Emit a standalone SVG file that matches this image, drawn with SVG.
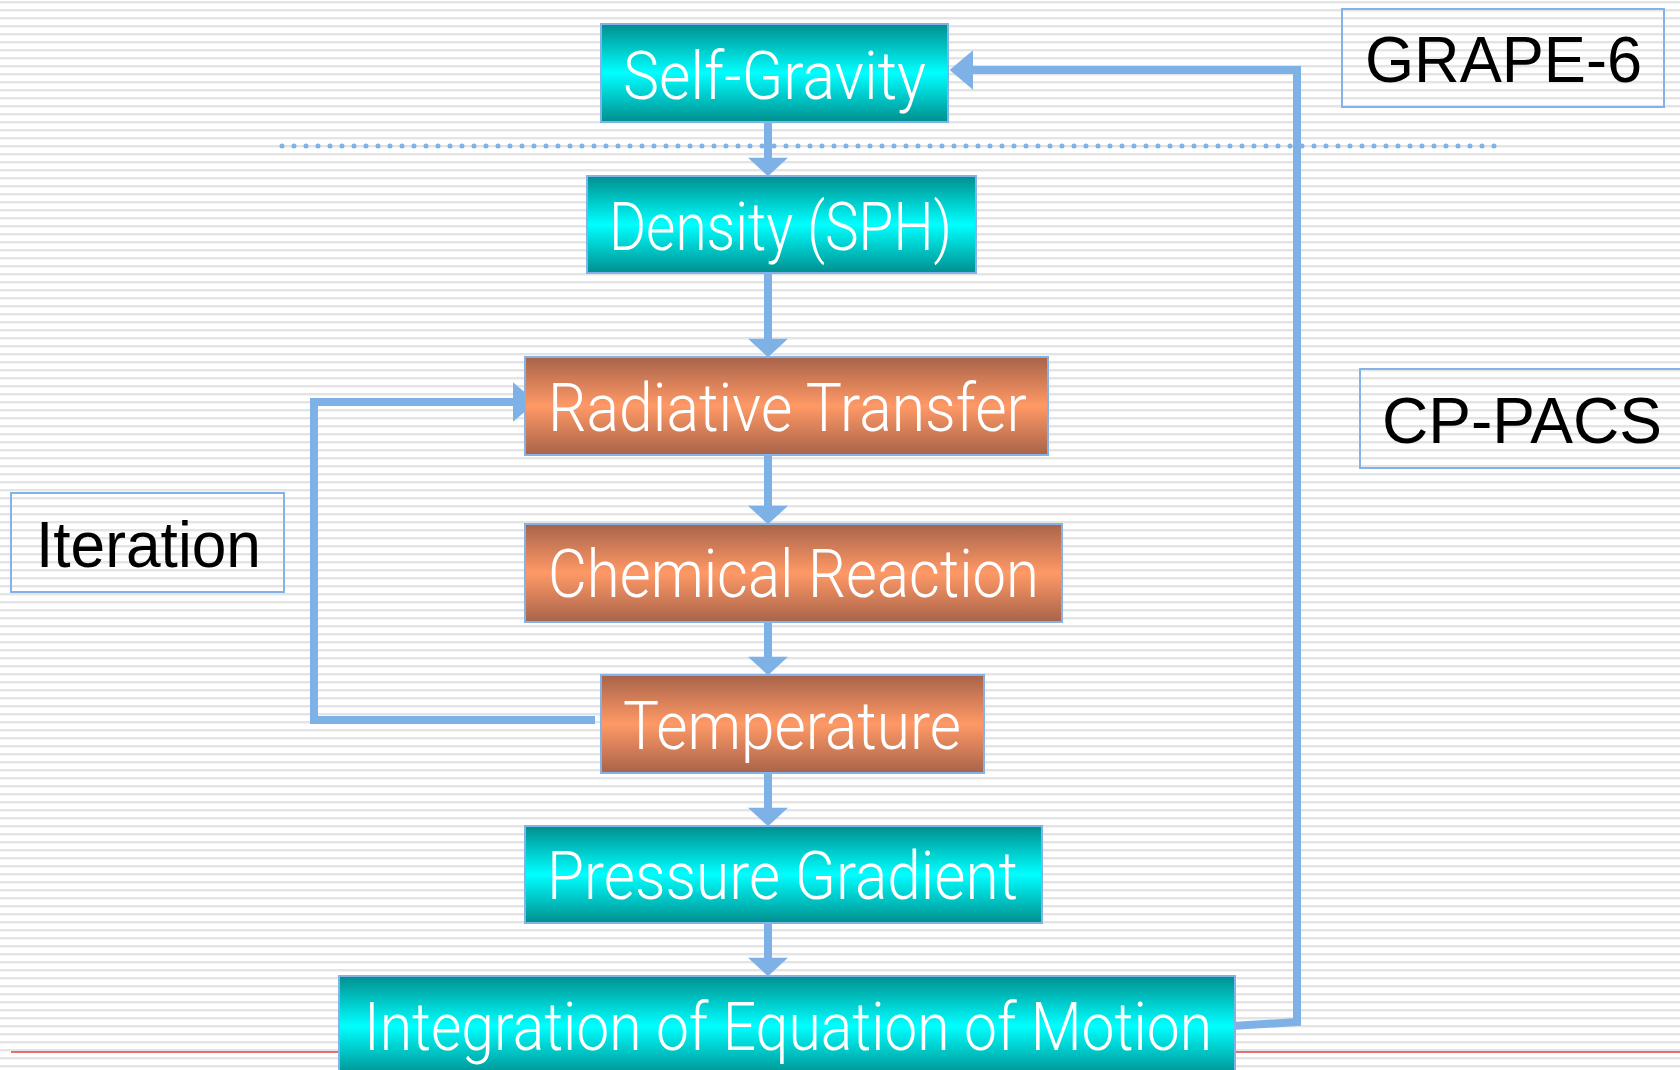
<svg xmlns="http://www.w3.org/2000/svg" width="1680" height="1070" viewBox="0 0 1680 1070">
<defs>
<pattern id="stripes" width="8" height="8" patternUnits="userSpaceOnUse">
<rect width="8" height="8" fill="#ffffff"/>
<rect y="1" width="8" height="2" fill="#e4e4e4"/>
<rect y="3" width="8" height="0.8" fill="#f0f0f0"/>
</pattern>
<linearGradient id="teal" x1="0" y1="0" x2="0" y2="1">
<stop offset="0" stop-color="#008e8e"/>
<stop offset="0.5" stop-color="#00ffff"/>
<stop offset="1" stop-color="#008e8e"/>
</linearGradient>
<linearGradient id="orange" x1="0" y1="0" x2="0" y2="1">
<stop offset="0" stop-color="#a8634a"/>
<stop offset="0.5" stop-color="#ff9966"/>
<stop offset="1" stop-color="#a8634a"/>
</linearGradient>
<marker id="arrV" markerUnits="userSpaceOnUse" markerWidth="20" markerHeight="40" viewBox="0 0 18 39" refX="6" refY="19.5" orient="auto">
<path d="M0,0 L18,19.5 L0,39 z" fill="#7eb2e6"/>
</marker>
<marker id="arrH" markerUnits="userSpaceOnUse" markerWidth="24" markerHeight="40" viewBox="0 0 23 39" refX="8" refY="19.5" orient="auto">
<path d="M0,0 L23,19.5 L0,39 z" fill="#7eb2e6"/>
</marker>
<style>
.box{stroke:#82b2e6;stroke-width:2}
.t{fill:none;stroke:#82b2e6;stroke-width:2}
.lbl{font-family:Roboto,"Liberation Sans",sans-serif;font-weight:300;font-size:66px;fill:#ffffff}
.blk{font-family:"Liberation Sans",Arial,sans-serif;font-size:64px;fill:#000000}
.c{fill:none;stroke:#7eb2e6;stroke-width:8}
</style>
</defs>
<rect width="1680" height="1070" fill="url(#stripes)"/>
<line x1="11" y1="1052" x2="1680" y2="1052" stroke="#e04040" stroke-width="1.5"/>
<line x1="282" y1="146" x2="1497" y2="146" stroke="#7eb2e6" stroke-width="5" stroke-dasharray="0 12" stroke-linecap="round"/>

<g id="connectors">
<line class="c" x1="768" y1="122" x2="768" y2="164" marker-end="url(#arrV)"/>
<line class="c" x1="768" y1="273" x2="768" y2="345" marker-end="url(#arrV)"/>
<line class="c" x1="768" y1="455" x2="768" y2="512" marker-end="url(#arrV)"/>
<line class="c" x1="768" y1="622" x2="768" y2="663" marker-end="url(#arrV)"/>
<line class="c" x1="768" y1="773" x2="768" y2="814" marker-end="url(#arrV)"/>
<line class="c" x1="768" y1="923" x2="768" y2="964" marker-end="url(#arrV)"/>
<path class="c" d="M595,720 H314 V402 H521" marker-end="url(#arrH)"/>
<path class="c" d="M1232,1026 L1297,1022 V70 H965" marker-end="url(#arrH)"/>
</g>

<g id="self-gravity">
<rect class="box" x="601" y="24" width="347" height="98" fill="url(#teal)"/>
<text class="lbl" x="623" y="99" textLength="303" lengthAdjust="spacingAndGlyphs">Self-Gravity</text>
</g>
<g id="density">
<rect class="box" x="587" y="176" width="389" height="97" fill="url(#teal)"/>
<text class="lbl" x="609" y="250" textLength="343" lengthAdjust="spacingAndGlyphs">Density (SPH)</text>
</g>
<g id="radiative-transfer">
<rect class="box" x="525" y="357" width="523" height="98" fill="url(#orange)"/>
<text class="lbl" x="548" y="431" textLength="479" lengthAdjust="spacingAndGlyphs">Radiative Transfer</text>
</g>
<g id="chemical-reaction">
<rect class="box" x="525" y="524" width="537" height="98" fill="url(#orange)"/>
<text class="lbl" x="548" y="597" textLength="491" lengthAdjust="spacingAndGlyphs">Chemical Reaction</text>
</g>
<g id="temperature">
<rect class="box" x="601" y="675" width="383" height="98" fill="url(#orange)"/>
<text class="lbl" x="623" y="749" textLength="338" lengthAdjust="spacingAndGlyphs">Temperature</text>
</g>
<g id="pressure-gradient">
<rect class="box" x="525" y="826" width="517" height="97" fill="url(#teal)"/>
<text class="lbl" x="547" y="899" textLength="471" lengthAdjust="spacingAndGlyphs">Pressure Gradient</text>
</g>
<g id="integration">
<rect class="box" x="339" y="976" width="896" height="100" fill="url(#teal)"/>
<text class="lbl" x="364" y="1050" textLength="848" lengthAdjust="spacingAndGlyphs">Integration of Equation of Motion</text>
</g>

<g id="grape6">
<rect class="t" x="1342" y="9" width="322" height="98"/>
<text class="blk" x="1365" y="82" textLength="277" lengthAdjust="spacingAndGlyphs">GRAPE-6</text>
</g>
<g id="cp-pacs">
<rect class="t" x="1360" y="369" width="340" height="99"/>
<text class="blk" x="1382" y="443" textLength="280" lengthAdjust="spacingAndGlyphs">CP-PACS</text>
</g>
<g id="iteration">
<rect class="t" x="11" y="493" width="273" height="99"/>
<text class="blk" x="36" y="567" font-size="65" textLength="225" lengthAdjust="spacingAndGlyphs">Iteration</text>
</g>
</svg>
